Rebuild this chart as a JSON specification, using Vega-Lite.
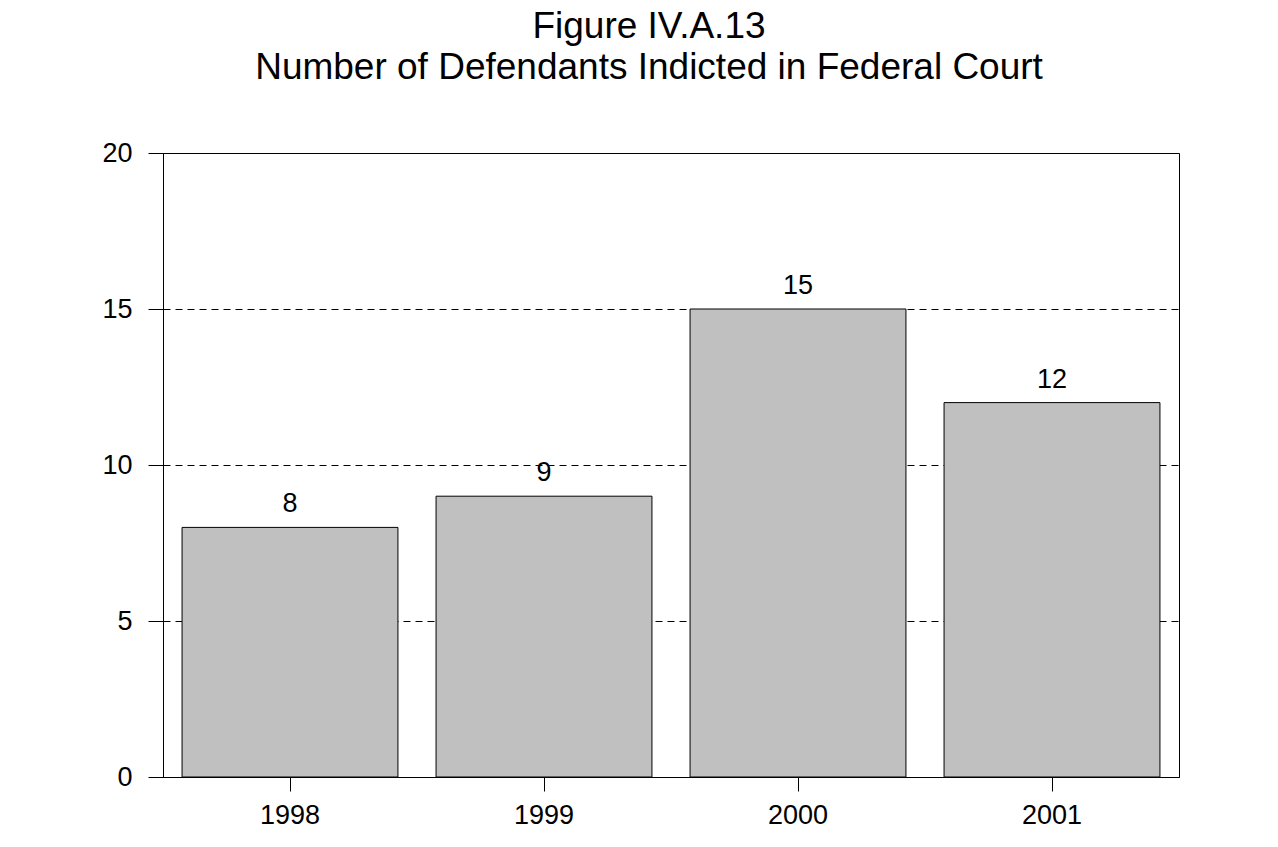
{
  "$schema": "https://vega.github.io/schema/vega-lite/v6.json",
  "autosize": "none",
  "width": 1016,
  "height": 624,
  "padding": {"left": 163, "top": 153, "right": 99, "bottom": 70},
  "background": "white",
  "title": {
    "text": ["Figure IV.A.13", "Number of Defendants Indicted in Federal Court"],
    "font": "Liberation Sans",
    "fontSize": 37,
    "fontWeight": "normal",
    "color": "black",
    "lineHeight": 41,
    "anchor": "middle",
    "frame": "group",
    "dx": -22,
    "offset": 52
  },
  "data": {
    "values": [
      {"year": "1998", "count": 8},
      {"year": "1999", "count": 9},
      {"year": "2000", "count": 15},
      {"year": "2001", "count": 12}
    ]
  },
  "encoding": {
    "x": {
      "field": "year",
      "type": "nominal",
      "sort": null,
      "scale": {"paddingInner": 0.15, "paddingOuter": 0.075},
      "axis": {
        "title": null,
        "labelAngle": 0,
        "labelFont": "Liberation Sans",
        "labelFontSize": 27,
        "labelColor": "black",
        "labelPadding": 11,
        "tickSize": 14,
        "tickColor": "black",
        "domainColor": "black",
        "grid": false
      }
    },
    "y": {
      "field": "count",
      "type": "quantitative",
      "scale": {"domain": [0, 20], "nice": false},
      "axis": {
        "title": null,
        "values": [0, 5, 10, 15, 20],
        "labelFont": "Liberation Sans",
        "labelFontSize": 27,
        "labelColor": "black",
        "labelPadding": 16,
        "tickSize": 15,
        "tickColor": "black",
        "domainColor": "black",
        "grid": true,
        "gridColor": "black",
        "gridDash": [7, 5],
        "gridWidth": 1,
        "gridOpacity": 1
      }
    }
  },
  "layer": [
    {"mark": {"type": "bar", "fill": "#c0c0c0", "stroke": "black", "strokeWidth": 1}},
    {
      "mark": {"type": "text", "dy": -15, "baseline": "alphabetic", "font": "Liberation Sans", "fontSize": 27, "color": "black"},
      "encoding": {"text": {"field": "count", "type": "quantitative"}}
    }
  ],
  "config": {"view": {"stroke": "black", "strokeWidth": 1}}
}
